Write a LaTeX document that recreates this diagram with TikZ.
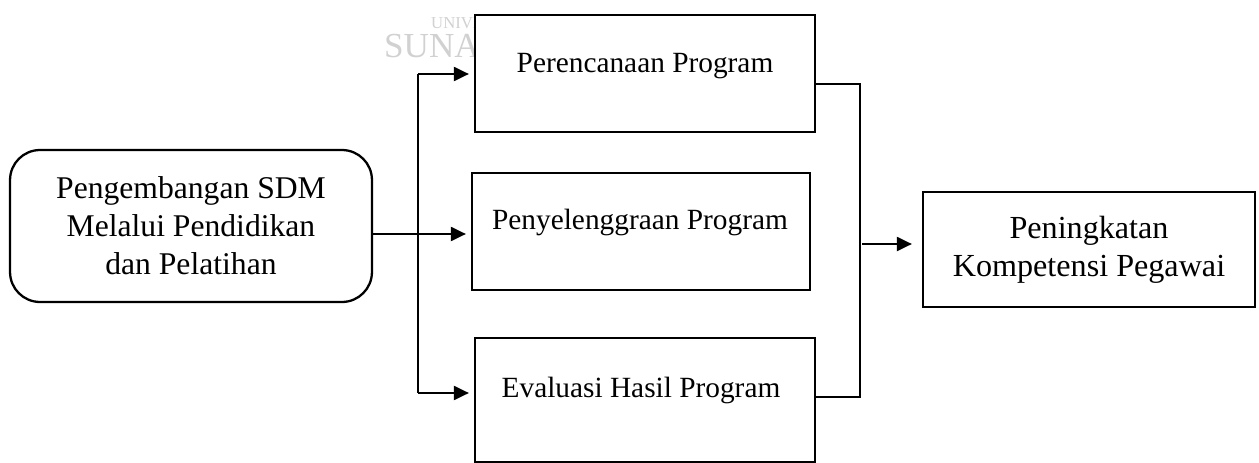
\documentclass[tikz,border=0pt]{standalone}
\usepackage{fontspec}
\setmainfont{Liberation Serif}
\usepackage{tikz}
\usetikzlibrary{arrows.meta}

\begin{document}
\begin{tikzpicture}[
  x=0.02cm, y=-0.02cm,
  srcbox/.style={draw, line width=1.3pt, rounded corners=0.6cm, minimum width=7.24cm, minimum height=3.04cm, align=center, font=\fontsize{18}{21.6}\selectfont},
  stepbox/.style={draw, line width=1.3pt, fill=white, minimum width=6.8cm, minimum height=2.34cm},
  steptext/.style={font=\fontsize{16.7}{20}\selectfont},
  goalbox/.style={draw, line width=1.3pt, minimum width=6.64cm, minimum height=2.3cm, align=center, font=\fontsize{18.3}{21.6}\selectfont},
  garis/.style={line width=0.6pt},
  panah/.style={line width=1.2pt, -{Triangle[length=0.3cm, width=0.28cm]}, shorten >=0.1cm},
  wm/.style={text=black!18, anchor=west}
]
\useasboundingbox (0,0) rectangle (1259,463);

% watermark behind the first box
\node[wm, font=\fontsize{9.5}{12}\selectfont] (wm-atas) at (425,23) {UNIVERSITAS};
\node[wm, font=\fontsize{20}{24}\selectfont] (wm-bawah) at (378,46) {SUNAN};

\node[srcbox] (sdm) at (191,226) {Pengembangan SDM\\Melalui Pendidikan\\dan Pelatihan};

\node[stepbox] (perencanaan) at (645,73.5) {};
\node[stepbox, minimum width=6.76cm] (penyelenggaraan) at (641,231.5) {};
\node[stepbox, minimum height=2.48cm] (evaluasi) at (645,400) {};
\node[steptext] (t-perencanaan) at (645,66) {Perencanaan Program};
\node[steptext] (t-penyelenggaraan) at (640,222) {Penyelenggraan Program};
\node[steptext] (t-evaluasi) at (641,390) {Evaluasi Hasil Program};

\node[goalbox] (hasil) at (1089,249.5) {Peningkatan\\Kompetensi Pegawai};

\coordinate (cabang-atas) at (418,74);
\coordinate (cabang) at (418,234);
\coordinate (cabang-bawah) at (418,393);
\coordinate (gabung-atas) at (860,84);
\coordinate (gabung) at (862,244);
\coordinate (gabung-bawah) at (860,397);

% split into the three programme stages
\draw[garis] (sdm.east |- cabang) -- (cabang);
\draw[garis] (cabang-atas) -- (cabang-bawah);
\draw[panah] (cabang-atas) -- (perencanaan.west |- cabang-atas);
\draw[panah] ([xshift=-0.08cm]cabang) -- (penyelenggaraan.west |- cabang);
\draw[panah] (cabang-bawah) -- (evaluasi.west |- cabang-bawah);

% join back to the outcome
\draw[garis] (perencanaan.east |- gabung-atas) -- (gabung-atas) -- (gabung-bawah) -- (evaluasi.east |- gabung-bawah);
\draw[panah, shorten >=0.2cm] (gabung) -- (hasil.west |- gabung);
\end{tikzpicture}
\end{document}
